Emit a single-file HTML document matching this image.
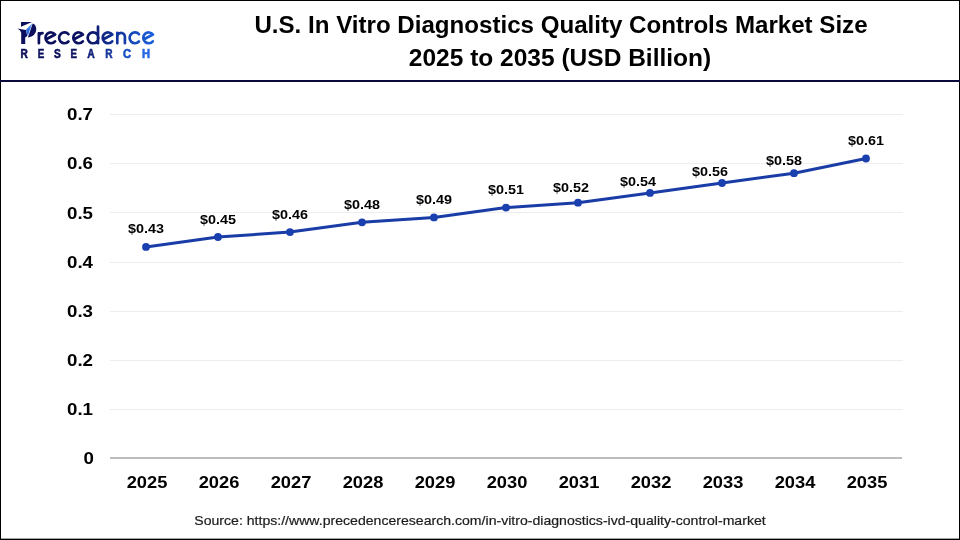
<!DOCTYPE html>
<html><head><meta charset="utf-8"><title>U.S. In Vitro Diagnostics Quality Controls Market Size</title>
<style>
html,body{margin:0;padding:0;background:#fff;}
body{width:960px;height:540px;position:relative;overflow:hidden;font-family:"Liberation Sans",sans-serif;color:#000;}
.abs{position:absolute;white-space:nowrap;}
.frame{position:absolute;left:0;top:0;width:958px;height:538px;border:1px solid #000;box-sizing:content-box;}
.frame2{position:absolute;left:0;top:538px;width:960px;height:1px;background:rgba(0,0,0,0.35);}
.rule{position:absolute;left:0;top:80px;width:960px;height:2px;background:#0a0a3c;}
.title{font-weight:bold;font-size:23.5px;line-height:34px;height:34px;color:#000;transform-origin:50% 50%;}
.ylab{font-weight:bold;font-size:17px;line-height:20px;height:20px;text-align:right;width:60px;color:#000;transform:scaleX(1.1);transform-origin:100% 50%;}
.xlab{font-weight:bold;font-size:17px;line-height:20px;height:20px;width:72px;text-align:center;color:#000;transform:scaleX(1.075);}
.dl{font-weight:bold;font-size:13.5px;line-height:16px;height:16px;width:72px;text-align:center;color:#000;transform:scaleX(1.065);}
.src{font-size:12.7px;line-height:16px;height:16px;color:#1c1c1c;-webkit-text-stroke:0.2px #1c1c1c;transform:translateX(-50%) scaleX(1.11);}
svg{position:absolute;left:0;top:0;}
</style></head><body>
<div style="position:absolute;left:0;top:0;width:960px;height:540px;will-change:transform;">
<div class="frame"></div><div class="frame2"></div>
<div class="rule"></div>
<svg width="960" height="540" viewBox="0 0 960 540">
<line x1="110" y1="409.5" x2="903" y2="409.5" stroke="#ededed" stroke-width="1"/>
<line x1="110" y1="360.5" x2="903" y2="360.5" stroke="#ededed" stroke-width="1"/>
<line x1="110" y1="311.5" x2="903" y2="311.5" stroke="#ededed" stroke-width="1"/>
<line x1="110" y1="262.5" x2="903" y2="262.5" stroke="#ededed" stroke-width="1"/>
<line x1="110" y1="212.5" x2="903" y2="212.5" stroke="#ededed" stroke-width="1"/>
<line x1="110" y1="163.5" x2="903" y2="163.5" stroke="#ededed" stroke-width="1"/>
<line x1="110" y1="114.5" x2="903" y2="114.5" stroke="#ededed" stroke-width="1"/>
<line x1="110" y1="458" x2="902" y2="458" stroke="#bdbdbd" stroke-width="2"/>
<polyline points="146.0,246.9 218.0,237.0 290.0,232.1 362.0,222.3 434.0,217.4 506.0,207.6 578.0,202.7 650.0,192.9 722.0,183.0 794.0,173.2 866.0,158.5" fill="none" stroke="#1a3ca6" stroke-width="3" stroke-linejoin="round" stroke-linecap="round"/>
<circle cx="146.0" cy="246.9" r="3.9" fill="#1a3fae"/>
<circle cx="218.0" cy="237.0" r="3.9" fill="#1a3fae"/>
<circle cx="290.0" cy="232.1" r="3.9" fill="#1a3fae"/>
<circle cx="362.0" cy="222.3" r="3.9" fill="#1a3fae"/>
<circle cx="434.0" cy="217.4" r="3.9" fill="#1a3fae"/>
<circle cx="506.0" cy="207.6" r="3.9" fill="#1a3fae"/>
<circle cx="578.0" cy="202.7" r="3.9" fill="#1a3fae"/>
<circle cx="650.0" cy="192.9" r="3.9" fill="#1a3fae"/>
<circle cx="722.0" cy="183.0" r="3.9" fill="#1a3fae"/>
<circle cx="794.0" cy="173.2" r="3.9" fill="#1a3fae"/>
<circle cx="866.0" cy="158.5" r="3.9" fill="#1a3fae"/>
</svg>
<svg width="180" height="78" viewBox="0 0 180 78">
<defs>
<linearGradient id="lg" gradientUnits="userSpaceOnUse" x1="17" y1="0" x2="154" y2="0">
<stop offset="0" stop-color="#0b0f5c"/><stop offset="0.5" stop-color="#0c1262"/><stop offset="0.72" stop-color="#13339a"/><stop offset="1" stop-color="#1b63df"/>
</linearGradient>
<linearGradient id="tri" x1="0" y1="0" x2="0" y2="1"><stop offset="0" stop-color="#4f92f4"/><stop offset="1" stop-color="#1b55d2"/></linearGradient>
</defs>
<g fill="#0b0f5c">
<path d="M21,22 L32,22.1 L21,26.7 Z"/>
<path d="M17.3,28.4 L25.9,29.9 L27.3,35.9 L25.2,37.6 L25.2,44.1 L21.2,44.1 L21.2,32.8 Q20.5,29.8 17.3,28.4 Z"/>
<path d="M32.7,23.5 C36.6,24.6 36.9,30 35.5,32.6 C34,35.9 30.6,37.5 27.9,37.5 Z"/>
</g>
<path d="M32.15,23.4 L25.9,29.7 L27.75,36.1 Z" fill="url(#tri)"/>
<path d="M38.9,33.3 V43.25 M38.9,37.6 C38.9,34.9 40.3,33.2 42.5,33.2 M45.76,39.52 L55.16,34.53 A5.40,5.40 0 1 0 55.04,41.32 M68.45,34.17 A5.40,5.40 0 1 0 68.45,41.53 M73.56,39.52 L82.96,34.53 A5.40,5.40 0 1 0 82.84,41.32 M98.45,37.85 A5.40,5.40 0 1 0 87.65,37.85 A5.40,5.40 0 1 0 98.45,37.85 M98.00,26.6 V43.25 M102.96,39.52 L112.36,34.53 A5.40,5.40 0 1 0 112.24,41.32 M117.3,32.9 V43.25 M117.3,36.7 A3.8,3.9 0 0 1 124.9,36.7 V43.25 M138.95,34.17 A5.40,5.40 0 1 0 138.95,41.53 M143.56,39.52 L152.96,34.53 A5.40,5.40 0 1 0 152.84,41.32" fill="none" stroke="url(#lg)" stroke-width="2.7" stroke-linecap="round" stroke-linejoin="round"/>
<g font-family="Liberation Sans, sans-serif" font-weight="bold" font-size="13"><text transform="translate(24.10,57.8) scale(0.78,1)" text-anchor="middle" fill="#0b0f5c" stroke="#0b0f5c" stroke-width="0.6" stroke-linejoin="round">R</text><text transform="translate(40.90,57.8) scale(0.75,1)" text-anchor="middle" fill="#0b0f5c" stroke="#0b0f5c" stroke-width="0.6" stroke-linejoin="round">E</text><text transform="translate(57.45,57.8) scale(0.78,1)" text-anchor="middle" fill="#0b0f5c" stroke="#0b0f5c" stroke-width="0.6" stroke-linejoin="round">S</text><text transform="translate(73.80,57.8) scale(0.75,1)" text-anchor="middle" fill="#0c1262" stroke="#0c1262" stroke-width="0.6" stroke-linejoin="round">E</text><text transform="translate(91.05,57.8) scale(0.80,1)" text-anchor="middle" fill="#13237c" stroke="#13237c" stroke-width="0.6" stroke-linejoin="round">A</text><text transform="translate(108.95,57.8) scale(0.78,1)" text-anchor="middle" fill="#18389c" stroke="#18389c" stroke-width="0.6" stroke-linejoin="round">R</text><text transform="translate(127.10,57.8) scale(0.86,1)" text-anchor="middle" fill="#1b50c2" stroke="#1b50c2" stroke-width="0.6" stroke-linejoin="round">C</text><text transform="translate(146.10,57.8) scale(0.86,1)" text-anchor="middle" fill="#2768e2" stroke="#2768e2" stroke-width="0.6" stroke-linejoin="round">H</text></g>
</svg>

<div class="abs title" style="left:560.8px;top:7.5px;transform:translateX(-50%) scaleX(1.026);">U.S. In Vitro Diagnostics Quality Controls Market Size</div>
<div class="abs title" style="left:560.1px;top:41.4px;transform:translateX(-50%) scaleX(1.043);">2025 to 2035 (USD Billion)</div>
<div class="abs ylab" style="left:34.0px;top:449.0px;">0</div>
<div class="abs ylab" style="left:32.6px;top:399.9px;">0.1</div>
<div class="abs ylab" style="left:32.6px;top:350.8px;">0.2</div>
<div class="abs ylab" style="left:32.6px;top:301.7px;">0.3</div>
<div class="abs ylab" style="left:32.6px;top:252.6px;">0.4</div>
<div class="abs ylab" style="left:32.6px;top:203.5px;">0.5</div>
<div class="abs ylab" style="left:32.6px;top:154.4px;">0.6</div>
<div class="abs ylab" style="left:32.6px;top:105.3px;">0.7</div>
<div class="abs xlab" style="left:110.5px;top:473.0px;">2025</div>
<div class="abs xlab" style="left:182.5px;top:473.0px;">2026</div>
<div class="abs xlab" style="left:254.5px;top:473.0px;">2027</div>
<div class="abs xlab" style="left:326.5px;top:473.0px;">2028</div>
<div class="abs xlab" style="left:398.5px;top:473.0px;">2029</div>
<div class="abs xlab" style="left:470.5px;top:473.0px;">2030</div>
<div class="abs xlab" style="left:542.5px;top:473.0px;">2031</div>
<div class="abs xlab" style="left:614.5px;top:473.0px;">2032</div>
<div class="abs xlab" style="left:686.5px;top:473.0px;">2033</div>
<div class="abs xlab" style="left:758.5px;top:473.0px;">2034</div>
<div class="abs xlab" style="left:830.5px;top:473.0px;">2035</div>
<div class="abs dl" style="left:110.0px;top:220.6px;">$0.43</div>
<div class="abs dl" style="left:182.0px;top:211.5px;">$0.45</div>
<div class="abs dl" style="left:254.0px;top:206.6px;">$0.46</div>
<div class="abs dl" style="left:326.0px;top:196.8px;">$0.48</div>
<div class="abs dl" style="left:398.0px;top:191.9px;">$0.49</div>
<div class="abs dl" style="left:470.0px;top:182.1px;">$0.51</div>
<div class="abs dl" style="left:535.0px;top:179.6px;">$0.52</div>
<div class="abs dl" style="left:602.0px;top:173.7px;">$0.54</div>
<div class="abs dl" style="left:674.0px;top:163.8px;">$0.56</div>
<div class="abs dl" style="left:748.0px;top:153.0px;">$0.58</div>
<div class="abs dl" style="left:830.0px;top:133.0px;">$0.61</div>
<div class="abs src" style="left:480px;top:513.0px;">Source: https://www.precedenceresearch.com/in-vitro-diagnostics-ivd-quality-control-market</div>
</div>
</body></html>
